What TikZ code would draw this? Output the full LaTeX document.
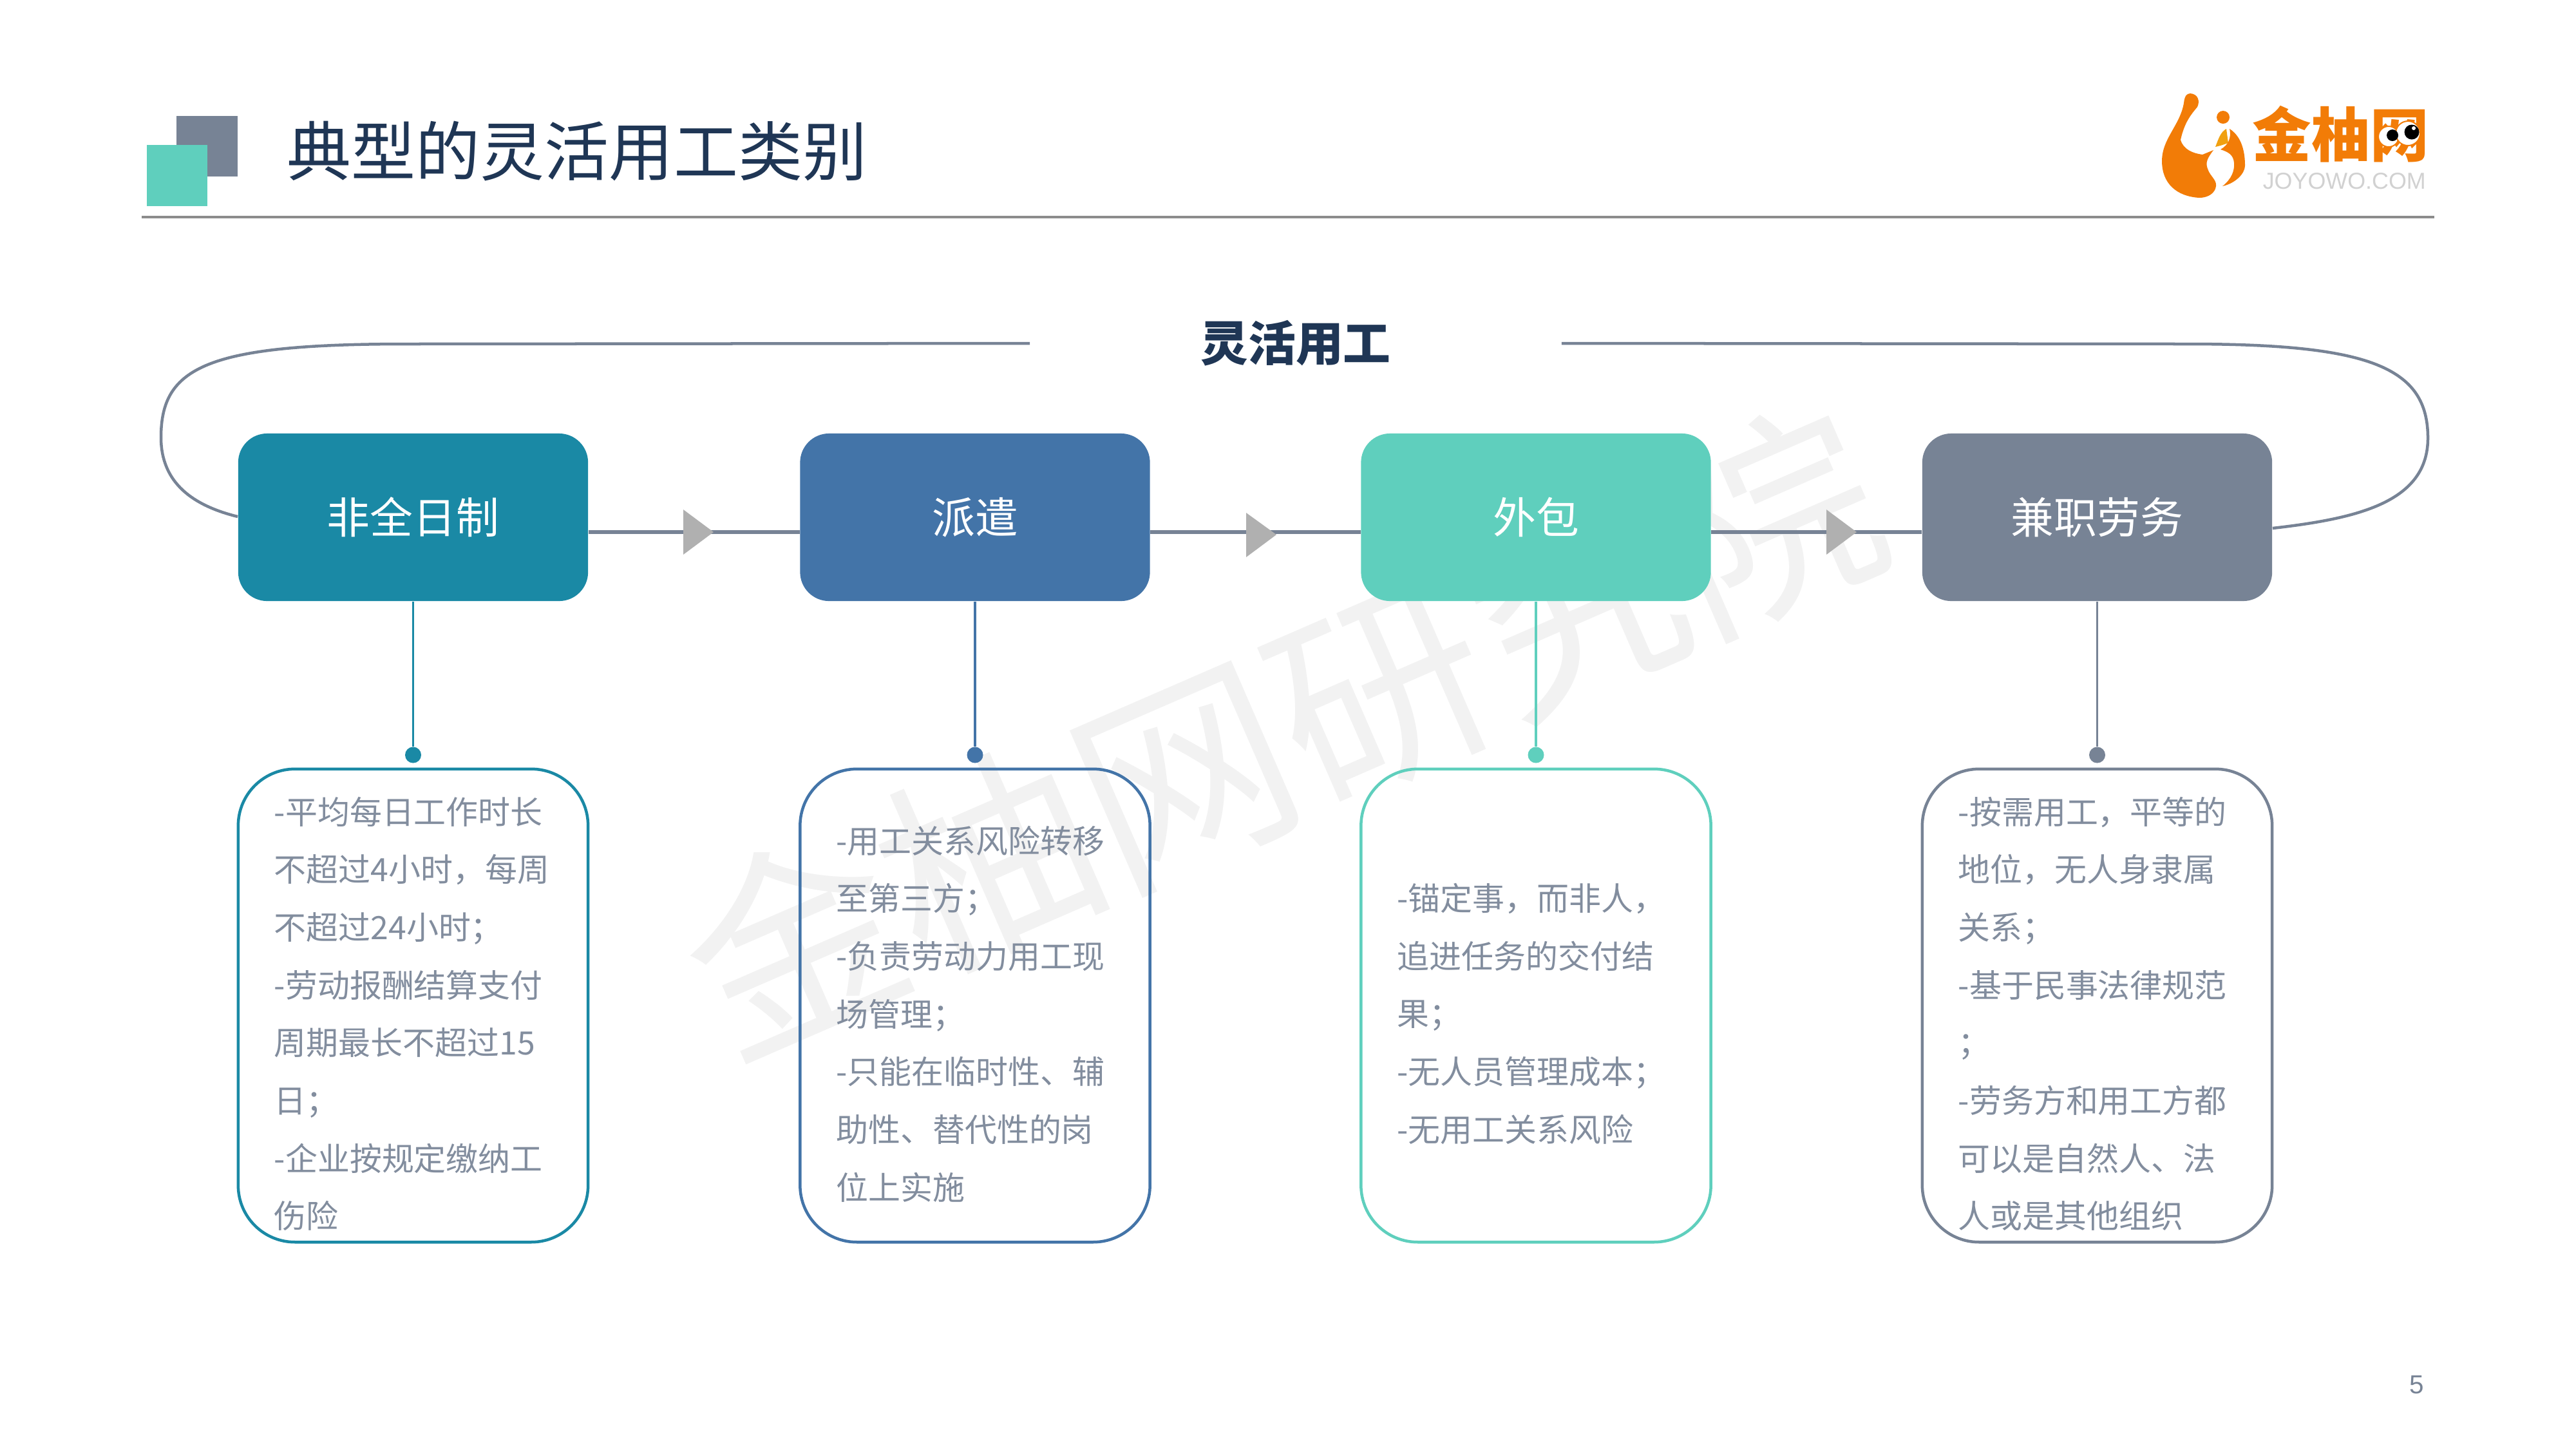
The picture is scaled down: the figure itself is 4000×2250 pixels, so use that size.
\documentclass[tikz,border=0pt]{standalone}
\usepackage{fontspec}
\setmainfont{Noto Sans CJK SC}
\newfontfamily\latinfont{Liberation Sans}
\definecolor{tealblue}{HTML}{1A89A5}
\definecolor{steelblue}{HTML}{4374A8}
\definecolor{mint}{HTML}{5FCFBD}
\definecolor{slategrey}{HTML}{778395}
\definecolor{navy}{HTML}{1F3655}
\definecolor{logoorange}{HTML}{F27C07}
\definecolor{logoamber}{HTML}{F0A010}
\tikzset{
  catbox/.style={rounded corners=.45cm,minimum width=5.43cm,minimum height=2.6cm,inner sep=0pt,text=white,
    font=\fontsize{19}{23}\selectfont},
  detailbox/.style={rounded corners=.88cm,line width=.045cm,outer sep=0pt,text width=4.31cm,inner xsep=.56cm,inner ysep=0pt,
    minimum height=7.34cm,align=left,text=slategrey!92,font=\fontsize{14.2}{25.5}\selectfont,
    execute at begin node={\rule{0pt}{.68cm}}},
  pin/.style={circle,inner sep=0pt,minimum size=.25cm},
  linkline/.style={slategrey,line width=.055cm},
  pinline/.style={line width=.035cm},
  loopline/.style={slategrey,line width=.045cm},
  tri/.style={fill=black!31},
  eye/.style={fill=white,draw=logoorange,line width=.02cm},
}
\begin{document}
\begin{tikzpicture}[x=.01cm,y=-.01cm]
  \useasboundingbox (0,0) rectangle (4000,2250);
  \node[rotate=23.5,text=black!5,font=\fontsize{94}{100}\selectfont] (watermark) at (1990,1135) {金柚网研究院};
  \fill[slategrey] (274,180) rectangle (369,274);
  \fill[mint] (228,225) rectangle (322,320);
  \node[anchor=west,inner sep=0pt,text=navy,font=\fontsize{28.45}{32}\selectfont] (title) at (445,235) {典型的灵活用工类别};
  \draw[black!45,line width=.04cm] (220,337) -- (3780,337);
  % logo
  \fill[logoorange] (3401,145) .. controls (3414,146) and (3416,158) .. (3412,166)
    .. controls (3402,178) and (3392,190) .. (3386,217) .. controls (3390,232) and (3405,238) .. (3420,240)
    -- (3437,233) .. controls (3428,245) and (3424,252) .. (3428,262)
    .. controls (3432,275) and (3445,280) .. (3440,293) .. controls (3436,303) and (3425,307) .. (3415,307)
    .. controls (3380,305) and (3357,285) .. (3357,250) .. controls (3357,215) and (3385,195) .. (3391,160)
    .. controls (3392,150) and (3395,145) .. (3401,145) -- cycle;
  \fill[logoorange] (3452,182) circle (10);
  \fill[logoamber] (3440,228) .. controls (3445,215) and (3448,205) .. (3457,200) -- (3460,222) -- (3448,226) -- cycle;
  \fill[logoorange] (3462,200) .. controls (3478,210) and (3486,230) .. (3486,257)
    .. controls (3486,270) and (3470,285) .. (3451,289) .. controls (3465,278) and (3470,265) .. (3469,253)
    .. controls (3468,240) and (3460,236) .. (3448,232) .. controls (3460,225) and (3465,215) .. (3462,200) -- cycle;
  \node[anchor=west,inner sep=0pt,text=logoorange,font=\fontsize{26}{28}\bfseries\selectfont] (logotext) at (3497,208) {金柚网};
  \draw[eye] (3709,212) circle (16);
  \draw[eye] (3739,207) circle (19);
  \fill[black] (3715,210) circle (9);
  \fill[black] (3745,205) circle (11.5);
  \fill[white] (3748,199) circle (3);
  \node[anchor=west,inner sep=0pt,text=black!18,font=\latinfont\fontsize{10.2}{12}\selectfont] (logourl) at (3513,281) {JOYOWO.COM};
  % top label
  \node[minimum width=8.24cm,inner sep=0pt,text=navy,font=\fontsize{21}{25}\bfseries\selectfont] (flex) at (2012,533) {灵活用工};
  % categories
  \node[catbox,fill=tealblue] (feiquan) at (641.5,803) {非全日制};
  \node[catbox,fill=steelblue] (paiqian) at (1514,803) {派遣};
  \node[catbox,fill=mint] (waibao) at (2385,803) {外包};
  \node[catbox,fill=slategrey] (jianzhi) at (3256.5,803) {兼职劳务};
  % outer loop
  \draw[loopline] (feiquan.west |- 0,802) .. controls (300,785) and (250,750) .. (250,679)
    .. controls (250,570) and (320,534) .. (631,534) -- (flex.west);
  \draw[loopline] (jianzhi.east |- 0,820) .. controls (3660,805) and (3770,780) .. (3770,680)
    .. controls (3770,570) and (3680,534) .. (3397,534) -- (flex.east);
  % links
  \draw[linkline] ([yshift=-.23cm]feiquan.east) -- ([yshift=-.23cm]paiqian.west);
  \draw[linkline] ([yshift=-.23cm]paiqian.east) -- ([yshift=-.23cm]waibao.west);
  \draw[linkline] ([yshift=-.23cm]waibao.east) -- ([yshift=-.23cm]jianzhi.west);
  \fill[tri] (1061,791) -- ++(47,35) -- ++(-47,35) -- cycle;
  \fill[tri] (1935,796) -- ++(47,34) -- ++(-47,35) -- cycle;
  \fill[tri] (2836,791) -- ++(47,35) -- ++(-47,35) -- cycle;
  % pins
  \node[pin,fill=tealblue] (pinA) at (641.5,1172) {};
  \node[pin,fill=steelblue] (pinB) at (1514,1172) {};
  \node[pin,fill=mint] (pinC) at (2385,1172) {};
  \node[pin,fill=slategrey] (pinD) at (3256.5,1172) {};
  \draw[pinline,tealblue] (feiquan) -- (pinA);
  \draw[pinline,steelblue] (paiqian) -- (pinB);
  \draw[pinline,mint] (waibao) -- (pinC);
  \draw[pinline,slategrey] (jianzhi) -- (pinD);
  % details
  \node[detailbox,draw=tealblue] (detailA) at (641.5,1561) {-平均每日工作时长\\不超过4小时，每周\\不超过24小时；\\-劳动报酬结算支付\\周期最长不超过15\\日；\\-企业按规定缴纳工\\伤险};
  \node[detailbox,draw=steelblue] (detailB) at (1514,1561) {-用工关系风险转移\\至第三方；\\-负责劳动力用工现\\场管理；\\-只能在临时性、辅\\助性、替代性的岗\\位上实施};
  \node[detailbox,draw=mint] (detailC) at (2385,1561) {-锚定事，而非人，\\追进任务的交付结\\果；\\-无人员管理成本；\\-无用工关系风险};
  \node[detailbox,draw=slategrey] (detailD) at (3256.5,1561) {-按需用工，平等的\\地位，无人身隶属\\关系；\\-基于民事法律规范\\；\\-劳务方和用工方都\\可以是自然人、法\\人或是其他组织};
  \node[text=slategrey,inner sep=0pt,font=\latinfont\fontsize{11.5}{14}\selectfont] (pagenum) at (3753,2150) {5};
\end{tikzpicture}
\end{document}
